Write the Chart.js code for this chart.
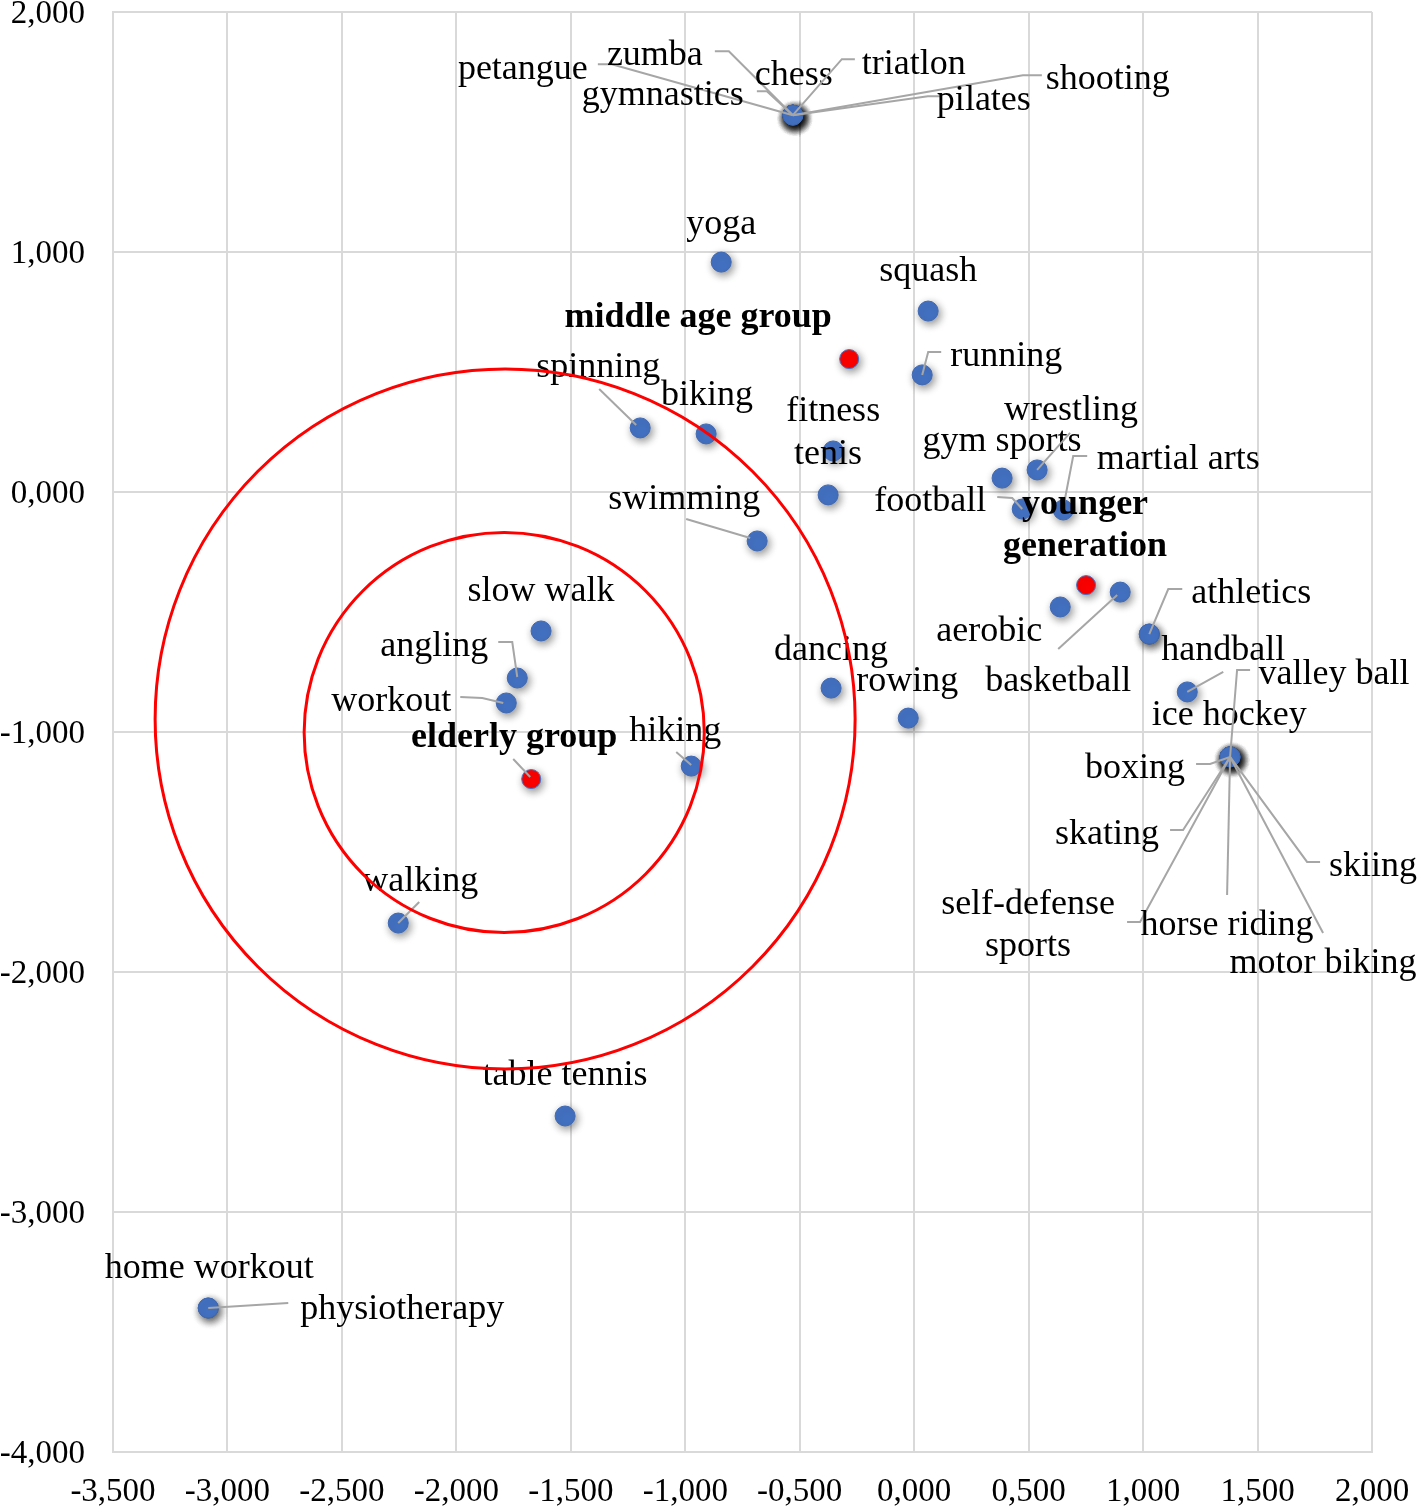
<!DOCTYPE html>
<html>
<head>
<meta charset="utf-8">
<script src="https://cdn.jsdelivr.net/npm/chart.js@4.4.1/dist/chart.umd.min.js"></script>
<style>
  html, body { margin: 0; padding: 0; background: #fff; }
  .chart-wrap { position: relative; width: 1418px; height: 1508px; }
</style>
</head>
<body>
<div class="chart-wrap"><canvas id="sports-chart"></canvas></div>
<script>
// activities (blue points)
const activities = [
  'petangue', 'zumba', 'chess', 'triatlon', 'shooting', 'gymnastics', 'pilates',
  'yoga', 'squash', 'running', 'spinning', 'biking', 'fitness', 'tenis',
  'gym sports', 'wrestling', 'football', 'martial arts', 'swimming',
  'athletics', 'handball', 'aerobic', 'basketball', 'ice hockey',
  'valley ball', 'boxing', 'skating', 'self-defense sports', 'horse riding', 'motor biking', 'skiing',
  'slow walk', 'angling', 'workout', 'hiking', 'dancing', 'rowing',
  'walking', 'table tennis', 'home workout', 'physiotherapy'
];
const activityX = [
  -0.530, -0.530, -0.530, -0.530, -0.530, -0.530, -0.530,
  -0.843, 0.061, 0.035, -1.197, -0.909, -0.354, -0.376,
  0.384, 0.537, 0.472, 0.651, -0.686,
  1.027, 1.027, 0.638, 0.900, 1.193,
  1.380, 1.380, 1.380, 1.380, 1.380, 1.380, 1.380,
  -1.630, -1.734, -1.782, -0.974, -0.363, -0.026,
  -2.254, -1.525, -3.084, -3.084
];
const activityY = [
  1.570, 1.570, 1.570, 1.570, 1.570, 1.570, 1.570,
  0.958, 0.754, 0.488, 0.267, 0.242, 0.171, -0.012,
  0.058, 0.092, -0.071, -0.075, -0.204,
  -0.592, -0.592, -0.479, -0.417, -0.833,
  -1.104, -1.104, -1.104, -1.104, -1.104, -1.104, -1.104,
  -0.579, -0.775, -0.879, -1.142, -0.817, -0.942,
  -1.796, -2.600, -3.400, -3.400
];

// age groups (red points)
const groupNames = ['elderly group', 'middle age group', 'younger generation'];
const groupX = [-1.673, -0.284, 0.751];
const groupY = [-1.196, 0.554, -0.388];

// axis ticks
const xTickValues = [-3.5, -3, -2.5, -2, -1.5, -1, -0.5, 0, 0.5, 1, 1.5, 2];
const yTickValues = [-4, -3, -2, -1, 0, 1, 2];

// red rings round the elderly group (centre x, centre y, radius in x units)
const rings = [
  {cx: -1.787, cy: -0.946, r: 1.529},
  {cx: -1.791, cy: -1.002, r: 0.874}
];

// where each label sits, in pixels from its point; optional leader line
const labelLayout = {
  'petangue': {at: [-270, -48], line: [[-195, -51], [-181, -51], [0, 0]]},
  'zumba': {at: [-138, -62], line: [[-78, -64], [-64, -64], [0, 0]]},
  'chess': {at: [1, -42]},
  'triatlon': {at: [121, -53], line: [[62, -56], [49, -56], [0, 0]]},
  'shooting': {at: [315, -38], line: [[249, -40], [230, -40], [0, 0]]},
  'gymnastics': {at: [-130, -22], line: [[-36, -24], [-26, -24], [0, 0]]},
  'pilates': {at: [191, -17], line: [[149, -19], [135, -19], [0, 0]]},
  'yoga': {at: [0, -40]},
  'squash': {at: [0, -41]},
  'running': {at: [84, -20], line: [[19, -23], [6, -23], [0, 0]]},
  'spinning': {at: [-42, -62], line: [[-41, -39], [-4, -3]]},
  'biking': {at: [1, -40]},
  'fitness': {at: [0, -41]},
  'tenis': {at: [0, -42]},
  'gym sports': {at: [0, -39]},
  'wrestling': {at: [34, -61], line: [[33, -37], [0, 0]]},
  'football': {at: [-92, -9], line: [[-25, -12], [-10, -11], [0, 0]]},
  'martial arts': {at: [115, -52], line: [[24, -54], [10, -54], [0, -2]]},
  'swimming': {at: [-73, -43], line: [[-71, -22], [-7, -3]]},
  'athletics': {at: [102, -43], line: [[33, -45], [19, -45], [0, 0]]},
  'handball': {at: [74, 14]},
  'aerobic': {at: [-71, 23]},
  'basketball': {at: [-62, 87], line: [[-62, 57], [-3, 3]]},
  'ice hockey': {at: [42, 22], line: [[0, 0], [36, -20]]},
  'valley ball': {at: [104, -84], line: [[20, -87], [7, -87], [0, 0]]},
  'boxing': {at: [-95, 10], line: [[-34, 7], [-20, 7], [0, 0]]},
  'skating': {at: [-123, 76], line: [[-60, 73], [-47, 73], [0, 0]]},
  'self-defense sports': {at: [-202, 146], text: ['self-defense', 'sports'], line: [[-103, 165], [-90, 165], [0, 0]]},
  'horse riding': {at: [-3, 167], line: [[-3, 138], [0, 0]]},
  'motor biking': {at: [93, 205], line: [[93, 176], [0, 0]]},
  'skiing': {at: [143, 108], line: [[90, 105], [77, 105], [0, 0]]},
  'slow walk': {at: [0, -41]},
  'angling': {at: [-83, -33], line: [[-19, -36], [-5, -36], [0, -1]]},
  'workout': {at: [-115, -3], line: [[-46, -6], [-24, -5], [-3, 0]]},
  'hiking': {at: [-16, -37], line: [[-15, -14], [0, -1]]},
  'dancing': {at: [0, -40]},
  'rowing': {at: [-1, -39]},
  'walking': {at: [22, -43], line: [[21, -21], [0, 0]]},
  'table tennis': {at: [0, -42]},
  'home workout': {at: [1, -41]},
  'physiotherapy': {at: [194, 0], line: [[80, -5], [0, 0]]},
  'elderly group': {at: [-17, -43], line: [[-18, -20], [-1, -2]]},
  'middle age group': {at: [-151, -43]},
  'younger generation': {at: [-1, -82], text: ['younger', 'generation']}
};

const FONT = '"Liberation Serif", "Times New Roman", serif';
const GRID = '#d9d9d9';
const TEXT_NUDGE = 2;

const fmtTick = (v) => Number(v).toFixed(3).replace('.', ',').replace('-0,000', '0,000');

const pointShadow = {
  id: 'pointShadow',
  beforeDatasetsDraw(chart) {
    const ctx = chart.ctx;
    ctx.save();
    ctx.shadowColor = 'rgba(0, 0, 0, 0.45)';
    ctx.shadowBlur = 8;
    ctx.shadowOffsetX = 2;
    ctx.shadowOffsetY = 3;
  },
  afterDatasetsDraw(chart) {
    chart.ctx.restore();
  }
};

const drawLabelSet = (chart, names, xs, ys, bold) => {
  const ctx = chart.ctx;
  const xs_ = chart.scales.x;
  const ys_ = chart.scales.y;
  names.forEach((name, i) => {
    const layout = labelLayout[name];
    if (!layout) return;
    const px = xs_.getPixelForValue(xs[i]);
    const py = ys_.getPixelForValue(ys[i]);

    if (layout.line) {
      ctx.beginPath();
      layout.line.forEach(([dx, dy], k) => {
        if (k === 0) ctx.moveTo(px + dx, py + dy);
        else ctx.lineTo(px + dx, py + dy);
      });
      ctx.strokeStyle = '#a6a6a6';
      ctx.lineWidth = 2;
      ctx.stroke();
    }

    ctx.font = `${bold ? 'bold ' : ''}36px ${FONT}`;
    ctx.fillStyle = '#000';
    ctx.textAlign = 'center';
    ctx.textBaseline = 'middle';
    const lines = layout.text || [name];
    lines.forEach((txt, k) => {
      ctx.fillText(txt, px + layout.at[0], py + layout.at[1] + TEXT_NUDGE + k * 42);
    });
  });
};

const pointLabels = {
  id: 'pointLabels',
  afterDatasetsDraw(chart) {
    const ctx = chart.ctx;
    ctx.save();
    drawLabelSet(chart, activities, activityX, activityY, false);
    drawLabelSet(chart, groupNames, groupX, groupY, true);
    ctx.restore();
  }
};

const ringPlugin = {
  id: 'rings',
  afterDraw(chart) {
    const ctx = chart.ctx;
    const sx = chart.scales.x;
    const sy = chart.scales.y;
    ctx.save();
    ctx.strokeStyle = '#ff0000';
    ctx.lineWidth = 3;
    rings.forEach((ring) => {
      const cx = sx.getPixelForValue(ring.cx);
      const cy = sy.getPixelForValue(ring.cy);
      const r = sx.getPixelForValue(ring.cx + ring.r) - cx;
      ctx.beginPath();
      ctx.arc(cx, cy, r, 0, Math.PI * 2);
      ctx.stroke();
    });
    ctx.restore();
  }
};

const ctx = document.querySelector('#sports-chart').getContext('2d');

const config = {
  type: 'scatter',
  data: {
    datasets: [
      {
        label: 'activities',
        data: activities.map((name, i) => ({x: activityX[i], y: activityY[i]})),
        pointRadius: 10,
        pointBackgroundColor: '#4472c4',
        pointBorderColor: '#3f69b3',
        pointBorderWidth: 1
      },
      {
        label: 'groups',
        data: groupNames.map((name, i) => ({x: groupX[i], y: groupY[i]})),
        pointRadius: 9.5,
        pointBackgroundColor: '#ff0000',
        pointBorderColor: '#4472c4',
        pointBorderWidth: 1
      }
    ]
  },
  options: {
    responsive: true,
    maintainAspectRatio: false,
    animation: false,
    layout: {
      padding: {top: 12, right: 46, left: 0, bottom: 0}
    },
    plugins: {
      legend: {display: false},
      tooltip: {enabled: false}
    },
    scales: {
      x: {
        type: 'linear',
        min: xTickValues[0],
        max: xTickValues[xTickValues.length - 1],
        afterBuildTicks: (scale) => {
          scale.ticks = xTickValues.map((v) => ({value: v}));
        },
        afterFit: (scale) => {
          scale.height = 56;
          scale.paddingLeft = 0;
          scale.paddingRight = 0;
        },
        grid: {color: GRID, lineWidth: 2, drawTicks: false},
        border: {color: GRID, width: 2},
        ticks: {
          padding: 21,
          color: '#000',
          font: {family: FONT, size: 33},
          callback: (v) => fmtTick(v)
        }
      },
      y: {
        type: 'linear',
        min: yTickValues[0],
        max: yTickValues[yTickValues.length - 1],
        afterBuildTicks: (scale) => {
          scale.ticks = yTickValues.map((v) => ({value: v}));
        },
        afterFit: (scale) => {
          scale.width = 113;
          scale.paddingTop = 0;
          scale.paddingBottom = 0;
        },
        grid: {color: GRID, lineWidth: 2, drawTicks: false},
        border: {color: GRID, width: 2},
        ticks: {
          padding: 28,
          labelOffset: 2,
          color: '#000',
          font: {family: FONT, size: 33},
          callback: (v) => fmtTick(v)
        }
      }
    }
  },
  plugins: [pointShadow, pointLabels, ringPlugin]
};

new Chart(ctx, config);
</script>
</body>
</html>
